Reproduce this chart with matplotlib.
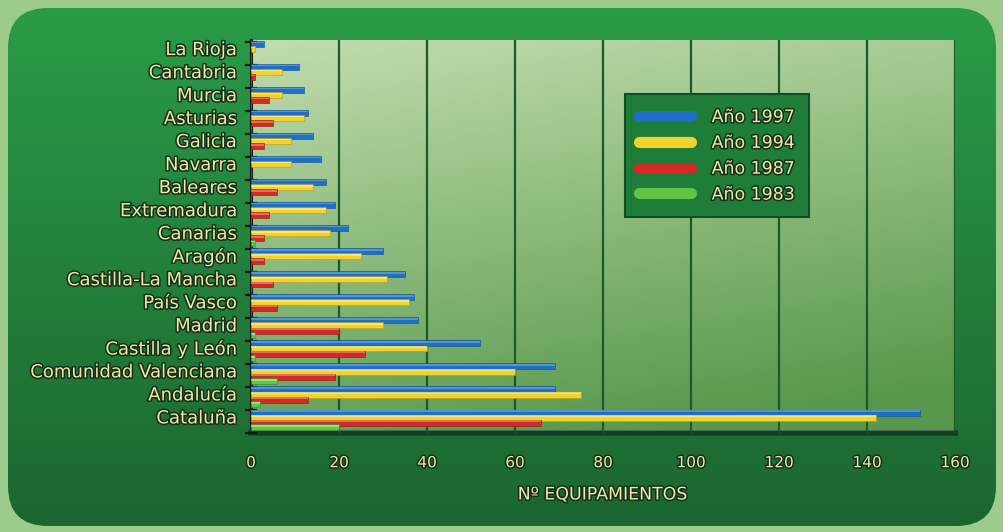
import numpy as np
import matplotlib
matplotlib.use("Agg")
import matplotlib.pyplot as plt
import matplotlib.patheffects as pe
from matplotlib.patches import FancyBboxPatch
from matplotlib.lines import Line2D
from matplotlib.colors import to_rgb

# --- data -------------------------------------------------------------
regiones = ["La Rioja", "Cantabria", "Murcia", "Asturias", "Galicia",
            "Navarra", "Baleares", "Extremadura", "Canarias", "Aragón",
            "Castilla-La Mancha", "País Vasco", "Madrid", "Castilla y León",
            "Comunidad Valenciana", "Andalucía", "Cataluña"]
anio_1997 = [3, 11, 12, 13, 14, 16, 17, 19, 22, 30, 35, 37, 38, 52, 69, 69, 152]
anio_1994 = [1, 7, 7, 12, 9, 9, 14, 17, 18, 25, 31, 36, 30, 40, 60, 75, 142]
anio_1987 = [0, 1, 4, 5, 3, 0, 6, 4, 3, 3, 5, 6, 20, 26, 19, 13, 66]
anio_1983 = [0, 0, 0, 0, 0, 0, 0, 0, 1, 0, 0, 0, 1, 1, 6, 2, 20]
series_nombres = ["Año 1997", "Año 1994", "Año 1987", "Año 1983"]
x_ticks = [0, 20, 40, 60, 80, 100, 120, 140, 160]
x_label = "Nº EQUIPAMIENTOS"

series = [anio_1997, anio_1994, anio_1987, anio_1983]
colores = ["#1f6fc4", "#f2d22e", "#d42a26", "#62c447"]
bordes = ["#134e8e", "#b89a18", "#8a1a14", "#3a8a2a"]
brillos = ["#79b0e0", "#fff2a8", "#f29a80", "#b8f0a0"]
offsets = [-0.17, 0.05, 0.27, 0.48]
alto = 0.26

CREMA = "#f3e6a6"
SOMBRA = [pe.withStroke(linewidth=2.2, foreground="#12301a")]

W, H = 1004, 532
fig = plt.figure(figsize=(W / 100, H / 100), dpi=100)
fig.patch.set_facecolor("#9ccb8c")

# --- rounded dark-green panel with a vertical gradient -----------------
bg = fig.add_axes([0, 0, 1, 1], zorder=0)
bg.set_xlim(0, W)
bg.set_ylim(H, 0)
bg.axis("off")
panel = FancyBboxPatch((8 + 40, 8 + 40), W - 16 - 80, H - 14 - 80,
                       boxstyle="round,pad=40", linewidth=0,
                       facecolor="none")
bg.add_patch(panel)
top_c = np.array(to_rgb("#2a9c48"))
bot_c = np.array(to_rgb("#1b6530"))
t = np.linspace(0, 1, 256)[:, None, None]
grad = top_c * (1 - t) + bot_c * t
grad = np.repeat(grad, 4, axis=1)
im = bg.imshow(grad, extent=[0, W, H, 0], aspect="auto", zorder=0)
im.set_clip_path(panel)

# --- chart axes -------------------------------------------------------
ax = fig.add_axes([251 / W, 1 - 433 / H, 704 / W, 393 / H], zorder=1)
ax.set_xlim(0, 160)
ax.set_ylim(16.6, -0.35)

# plot-area gradient: pale at the top, deeper green at the bottom
pa_top = np.array(to_rgb("#c2ddae"))
pa_bot = np.array(to_rgb("#58984c"))
tv = np.linspace(0, 1, 256)[:, None]
th = np.linspace(0, 1, 64)[None, :]
mix = np.clip(tv * 0.85 + th * 0.25, 0, 1)[..., None]
pa = pa_top * (1 - mix) + pa_bot * mix
ax.imshow(pa, extent=[0, 160, 16.6, -0.35], aspect="auto", zorder=0)

ax.set_xticks(x_ticks)
ax.grid(axis="x", color="#1b5a28", linewidth=1.6, zorder=1)
ax.set_axisbelow(False)

y = np.arange(len(regiones))
for vals, c, b, hl, off in zip(series, colores, bordes, brillos, offsets):
    ax.barh(y + off, vals, height=alto, color=c, edgecolor=b,
            linewidth=0.4, zorder=3)
    ax.barh(y + off - alto * 0.25, vals, height=alto * 0.22, color=hl,
            linewidth=0, alpha=0.6, zorder=4)

# axes styling
ax.set_yticks(y)
ax.set_yticklabels(regiones)
ax.set_yticks(np.arange(len(regiones) + 1) - 0.28, minor=True)
ax.tick_params(axis="y", which="major", length=0, pad=10)
ax.tick_params(axis="y", which="minor", length=8, width=1.6,
               color="#101810", direction="inout")
ax.tick_params(axis="x", length=0, pad=16)
for lbl in ax.get_yticklabels():
    lbl.set_color(CREMA)
    lbl.set_fontsize(13)
    lbl.set_path_effects(SOMBRA)
for lbl in ax.get_xticklabels():
    lbl.set_color(CREMA)
    lbl.set_fontsize(11)
    lbl.set_path_effects(SOMBRA)

for s in ("top", "right"):
    ax.spines[s].set_visible(False)
ax.spines["left"].set_color("#101810")
ax.spines["left"].set_linewidth(2.2)
ax.spines["bottom"].set_color("#153f20")
ax.spines["bottom"].set_linewidth(4)

ax.set_xlabel(x_label, color=CREMA, fontsize=12.5, labelpad=11,
              path_effects=SOMBRA)

# legend
handles = [Line2D([], [], color=c, linewidth=8, solid_capstyle="round")
           for c in colores]
leg = ax.legend(handles, series_nombres, loc="upper left",
                bbox_to_anchor=(0.531, 0.862), borderaxespad=0,
                fontsize=12.5, handlelength=3.0, handletextpad=1.2,
                labelspacing=0.45, borderpad=0.8, fancybox=False,
                framealpha=1)
leg.get_frame().set_facecolor("#1f7d3a")
leg.get_frame().set_edgecolor("#134d22")
leg.get_frame().set_linewidth(1.5)
for txt in leg.get_texts():
    txt.set_color(CREMA)
    txt.set_path_effects(SOMBRA)
leg.set_zorder(10)

fig.savefig("out.png", dpi=100, facecolor=fig.get_facecolor())
